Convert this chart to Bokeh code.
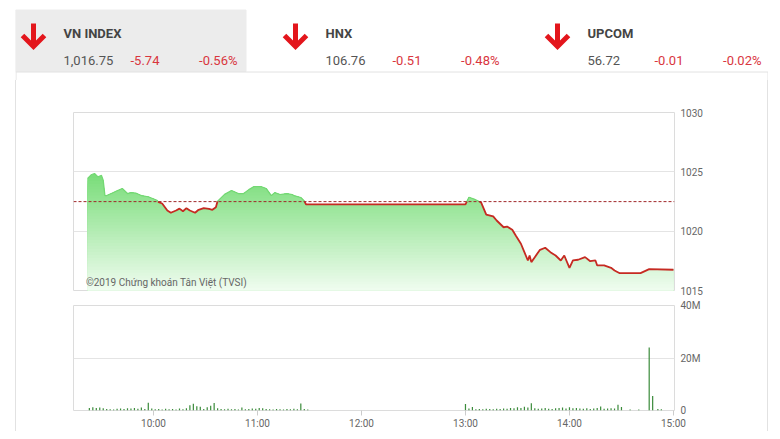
import numpy as np
from bokeh.plotting import figure
from bokeh.layouts import column
from bokeh.models import Range1d, FixedTicker, Span, Label
from bokeh.embed import file_html
from bokeh.resources import INLINE
from bokeh.core.properties import value

# ---------------- data ----------------
index_names = ["VN INDEX", "HNX", "UPCOM"]
index_values = ["1,016.75", "106.76", "56.72"]
index_changes = ["-5.74", "-0.51", "-0.01"]
index_pcts = ["-0.56%", "-0.48%", "-0.02%"]

ref_price = 1022.49

price_times = ["09:22", "09:24", "09:26", "09:28", "09:30", "09:31", "09:32", "09:33",
               "09:36", "09:39", "09:42", "09:45", "09:47", "09:50", "09:53", "09:57",
               "10:02", "10:03", "10:05", "10:08", "10:10", "10:13", "10:15", "10:17",
               "10:19", "10:21", "10:24", "10:26", "10:29", "10:32", "10:34", "10:36",
               "10:37", "10:41", "10:45", "10:49", "10:52", "10:55", "10:58", "11:02",
               "11:05", "11:08", "11:10", "11:13", "11:17", "11:20", "11:21", "11:25",
               "11:27", "11:28", "11:29",
               "13:00", "13:02", "13:05", "13:08", "13:09", "13:12", "13:16", "13:18",
               "13:22", "13:24", "13:27", "13:29", "13:32", "13:34", "13:36", "13:37",
               "13:38", "13:40", "13:43", "13:46", "13:49", "13:52", "13:55", "13:57",
               "14:00", "14:02", "14:05", "14:09", "14:12", "14:15", "14:16", "14:20",
               "14:24", "14:26", "14:29", "14:41", "14:46", "15:00"]
price_values = [1024.44, 1024.75, 1024.86, 1024.58, 1024.70, 1024.30, 1023.00, 1023.00,
                1023.20, 1023.40, 1023.60, 1023.17, 1023.25, 1023.20, 1023.00, 1022.90,
                1022.60, 1022.44, 1022.33, 1021.74, 1021.55, 1021.74, 1021.90, 1021.68,
                1021.94, 1021.74, 1021.55, 1021.80, 1021.94, 1021.88, 1021.80, 1022.02,
                1022.53, 1023.10, 1023.43, 1023.17, 1023.17, 1023.50, 1023.76, 1023.76,
                1023.60, 1023.00, 1023.25, 1023.09, 1023.17, 1023.09, 1023.00, 1022.84,
                1022.55, 1022.25, 1022.25,
                1022.25, 1022.86, 1022.70, 1022.50, 1022.42, 1021.40, 1021.24, 1020.90,
                1020.33, 1020.39, 1020.12, 1019.63, 1018.94, 1018.23, 1017.53, 1017.95,
                1017.39, 1017.81, 1018.43, 1018.60, 1018.23, 1017.95, 1017.53, 1017.95,
                1016.91, 1017.53, 1017.59, 1017.81, 1017.47, 1017.53, 1017.11, 1017.11,
                1016.91, 1016.69, 1016.46, 1016.46, 1016.80, 1016.75]

# volume (millions of shares), one bar every 2 minutes
vol_am_start = "09:23"
vol_am = [1.0, 1.2, 1.0, 1.1, 0.9, 0.6, 0.5, 0.4, 0.7, 0.8, 0.6, 0.9, 0.8, 1.0, 0.7, 1.1,
          0.6, 3.0, 0.8, 0.5, 0.6, 0.4, 0.7, 0.5, 0.6, 0.4, 0.8, 0.5, 0.9, 2.0, 2.6, 1.6,
          1.4, 0.6, 1.2, 1.8, 2.9, 0.9, 0.6, 0.5, 0.7, 0.5, 0.6, 0.4, 1.1, 0.5, 0.6, 0.8,
          0.7, 1.0, 0.9, 0.6, 0.5, 0.4, 0.6, 0.5, 0.4, 0.6, 0.5, 0.7, 0.5, 2.7, 0.6, 0.4]
vol_pm_start = "13:00"
vol_pm = [2.5, 0.8, 1.3, 0.5, 0.6, 0.5, 0.7, 0.6, 0.5, 0.7, 0.6, 0.8, 0.7, 1.0, 0.9, 1.2,
          1.0, 1.4, 1.1, 2.8, 0.9, 0.7, 0.8, 1.0, 0.7, 0.6, 0.9, 1.0, 1.1, 0.8, 1.2, 0.9,
          1.0, 0.8, 0.7, 0.9, 0.6, 0.8, 1.0, 1.5, 0.7, 0.8, 0.9, 0.8, 2.2, 1.3]
vol_atc_times = ["14:35", "14:40", "14:46", "14:48", "14:51", "14:53"]
vol_atc = [0.4, 0.4, 24.0, 5.5, 0.6, 0.5]

price_ticks = [1015, 1020, 1025, 1030]
vol_ticks = [0, 20, 40]
vol_tick_labels = ["0", "20M", "40M"]
time_tick_labels = ["10:00", "11:00", "12:00", "13:00", "14:00", "15:00"]
watermark = "\u00a92019 Ch\u1ee9ng kho\u00e1n T\u00e2n Vi\u1ec7t (TVSI)"

# ---------------- helpers ----------------
def to_min(s):
    h, m = s.split(":")[:2]
    return int(h) * 60 + int(m)

FONT = value("Roboto")
RED = "#e3161c"
TXT_RED = "#d9363e"
GRID = "#e4e4e4"

# ---------------- header ----------------
W = 753
header = figure(width=W, height=72, x_range=Range1d(15, 768), y_range=Range1d(80, 8),
                x_axis_location=None, y_axis_location=None, toolbar_location=None,
                output_backend="svg", min_border=0, outline_line_color=None,
                margin=(8, 0, 0, 15))
header.grid.visible = False
header.quad(left=15, right=245.5, top=9.5, bottom=71, color="#ececec")
header.segment(x0=[15, 245.5, 15.5, 767.5], y0=[71.5, 71.5, 71.5, 71.5],
               x1=[245.5, 768, 15.5, 767.5], y1=[71.5, 71.5, 80, 80],
               line_color="#e2e2e2", line_width=1)

base_x = [63 + 262 * i for i in range(len(index_names))]
arrow_cx = [bx - 30 for bx in base_x]
header.segment(x0=arrow_cx, y0=[23] * 3, x1=arrow_cx, y1=[45] * 3,
               line_color=RED, line_width=5)
header.multi_line(xs=[[c - 11, c, c + 11] for c in arrow_cx],
                  ys=[[35, 46, 35]] * 3, line_color=RED, line_width=5,
                  line_join="miter", line_cap="butt")
header.text(x=base_x, y=[33] * 3, text=index_names, text_font=FONT,
            text_font_style="bold", text_font_size="13px", text_color="#444444",
            text_baseline="alphabetic")
header.text(x=base_x, y=[60] * 3, text=index_values, text_font=FONT,
            text_font_size="13px", text_color="#555555", text_baseline="alphabetic")
header.text(x=[bx + 67 for bx in base_x], y=[60] * 3, text=index_changes, text_font=FONT,
            text_font_size="13px", text_color=TXT_RED, text_baseline="alphabetic")
header.text(x=[bx + 174 for bx in base_x], y=[60] * 3, text=index_pcts, text_font=FONT,
            text_font_size="13px", text_color=TXT_RED, text_baseline="alphabetic",
            text_align="right")

# ---------------- price panel ----------------
side_style = {"border-left": "1px solid #e2e2e2", "border-right": "1px solid #e2e2e2"}
x_range = Range1d(553.85, 900.6)

pp = figure(width=W, height=218, x_range=x_range, y_range=Range1d(1015, 1030),
            x_axis_location=None, y_axis_location="right", toolbar_location=None,
            output_backend="svg", min_border_left=57, min_border_right=95,
            min_border_top=32, min_border_bottom=8, outline_line_color="#dcdcdc",
            margin=(0, 0, 0, 15), styles=side_style)
pp.xgrid.visible = False
pp.ygrid.ticker = FixedTicker(ticks=price_ticks)
pp.ygrid.grid_line_color = GRID
ax = pp.yaxis[0]
ax.ticker = FixedTicker(ticks=price_ticks)
ax.axis_line_color = None
ax.major_tick_line_color = None
ax.minor_tick_line_color = None
ax.major_tick_out = 0
ax.major_tick_in = 0
ax.major_label_standoff = 6
ax.major_label_text_font = "Roboto"
ax.major_label_text_font_size = "10px"
ax.major_label_text_color = "#666666"

t = np.array([to_min(s) for s in price_times], dtype=float)
pv = np.array(price_values, dtype=float)
xs, ys = [t[0]], [pv[0]]
for i in range(1, len(t)):
    a, b = pv[i - 1], pv[i]
    if (a - ref_price) * (b - ref_price) < 0:
        f = (ref_price - a) / (b - a)
        xs.append(t[i - 1] + f * (t[i] - t[i - 1]))
        ys.append(ref_price)
    xs.append(t[i])
    ys.append(b)
xs = np.array(xs)
ys = np.array(ys)

# vertical gradient fill built from stacked areas
lo, hi, n = 1015.0, 1025.0, 40
levels = np.linspace(lo, hi, n + 1)
top_rgb = np.array([118, 220, 118])
bot_rgb = np.array([240, 252, 240])
for k in reversed(range(n)):
    frac = (levels[k] + levels[k + 1]) / 2
    frac = (frac - lo) / (hi - lo)
    rgb = bot_rgb + (top_rgb - bot_rgb) * frac
    col = "#%02x%02x%02x" % tuple(int(round(c)) for c in rgb)
    upper = 1031 if k == n - 1 else levels[k + 1]
    pp.varea(x=xs, y1=lo, y2=np.minimum(ys, upper), fill_color=col, fill_alpha=1.0)

green_y = np.where(ys >= ref_price - 1e-9, ys, np.nan)
red_y = np.where(ys <= ref_price + 1e-9, ys, np.nan)
pp.add_layout(Span(location=ref_price, dimension="width", line_color="#a0282a",
                   line_dash="3 2", line_width=1))
pp.line(xs, green_y, line_color="#73d873", line_width=1.2)
pp.line(xs, red_y, line_color="#c62a22", line_width=1.8)

pp.add_layout(Label(x=to_min("09:21"), y=1015.68, text=watermark, text_font="Roboto",
                    text_font_size="10px", text_color="#666666",
                    text_baseline="middle"))

# ---------------- volume panel ----------------
vp = figure(width=W, height=133, x_range=x_range, y_range=Range1d(0, 40),
            y_axis_location="right", toolbar_location=None, output_backend="svg",
            min_border_left=57, min_border_right=95, min_border_top=7,
            min_border_bottom=21, outline_line_color="#dcdcdc",
            margin=(0, 0, 0, 15), styles=side_style)
vp.xgrid.visible = False
vp.ygrid.ticker = FixedTicker(ticks=vol_ticks)
vp.ygrid.grid_line_color = GRID
vy = vp.yaxis[0]
vy.ticker = FixedTicker(ticks=vol_ticks)
vy.major_label_overrides = {k: v for k, v in zip(vol_ticks, vol_tick_labels)}
vy.axis_line_color = None
vy.major_tick_line_color = None
vy.minor_tick_line_color = None
vy.major_tick_out = 0
vy.major_tick_in = 0
vy.major_label_standoff = 6
vy.major_label_text_font = "Roboto"
vy.major_label_text_font_size = "10px"
vy.major_label_text_color = "#666666"

vx = vp.xaxis[0]
tick_pos = [to_min(s) for s in time_tick_labels]
vx.ticker = FixedTicker(ticks=tick_pos)
vx.major_label_overrides = {k: v for k, v in zip(tick_pos, time_tick_labels)}
vx.axis_line_color = None
vx.major_tick_in = 0
vx.major_tick_out = 5
vx.major_tick_line_color = "#cccccc"
vx.minor_tick_line_color = None
vx.major_label_standoff = 2
vx.major_label_text_font = "Roboto"
vx.major_label_text_font_size = "10px"
vx.major_label_text_color = "#666666"

vt = ([to_min(vol_am_start) + 2 * i for i in range(len(vol_am))]
      + [to_min(vol_pm_start) + 2 * i for i in range(len(vol_pm))]
      + [to_min(s) for s in vol_atc_times])
vv = vol_am + vol_pm + vol_atc
vp.vbar(x=vt, top=vv, bottom=0, width=0.7, fill_color="#3c8c3c", line_color=None)

layout = column(header, column(pp, vp, spacing=0), spacing=0)
open("out.html", "w").write(file_html(layout, INLINE))
